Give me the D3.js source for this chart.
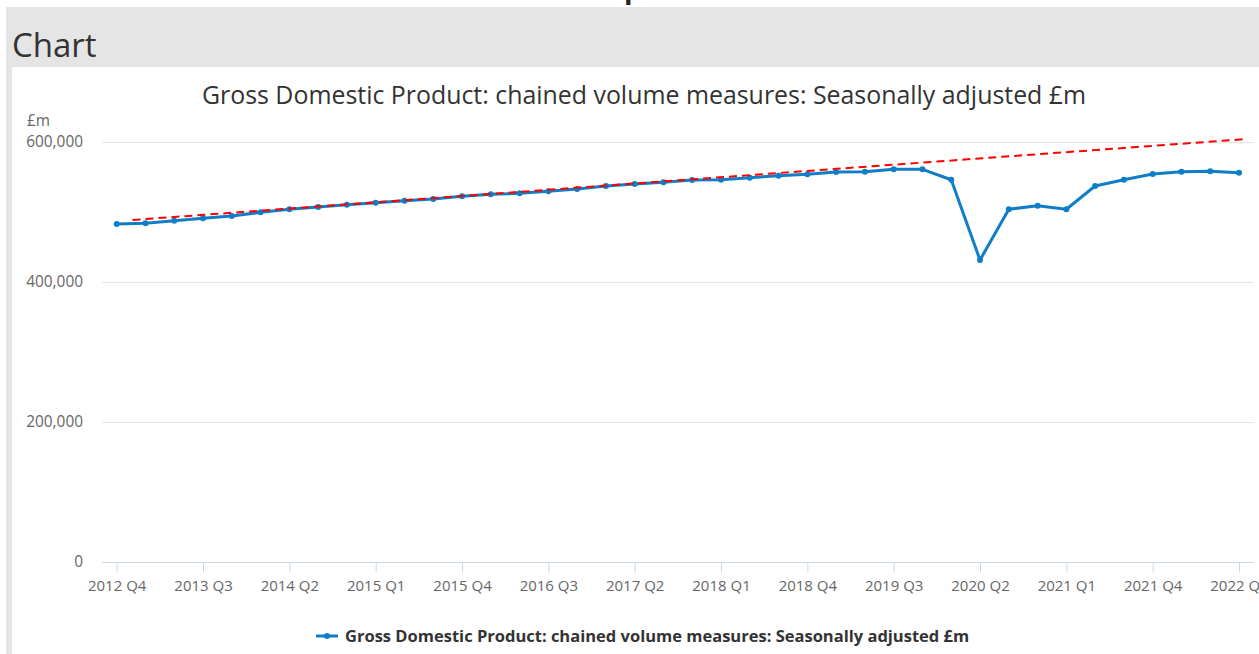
<!DOCTYPE html>
<html><head><meta charset="utf-8">
<script src="https://cdn.jsdelivr.net/npm/d3@7"></script>
<style>
html,body{margin:0;padding:0;background:#fff;overflow:hidden}
svg{display:block;font-family:"Open Sans",sans-serif}
</style></head><body>
<svg id="c" width="1259" height="654"></svg>
<script>
const categories = ["2012 Q4","2013 Q1","2013 Q2","2013 Q3","2013 Q4","2014 Q1","2014 Q2","2014 Q3","2014 Q4",
  "2015 Q1","2015 Q2","2015 Q3","2015 Q4","2016 Q1","2016 Q2","2016 Q3","2016 Q4","2017 Q1","2017 Q2","2017 Q3",
  "2017 Q4","2018 Q1","2018 Q2","2018 Q3","2018 Q4","2019 Q1","2019 Q2","2019 Q3","2019 Q4","2020 Q1","2020 Q2",
  "2020 Q3","2020 Q4","2021 Q1","2021 Q2","2021 Q3","2021 Q4","2022 Q1","2022 Q2","2022 Q3"];
const gdpValues = [482900,483900,487600,491000,494300,499600,503900,507100,510400,513300,516100,518600,522400,
  525300,526700,529600,532900,537100,540000,542400,545700,546100,549000,551900,553900,557100,557600,561000,
  561000,546100,431400,503900,509000,503900,537100,546100,554300,557600,558100,556100];
const trendIndex = [0.55, 39.15];
const trendValues = [488600, 603900];
const xTickLabels = ["2012 Q4","2013 Q3","2014 Q2","2015 Q1","2015 Q4","2016 Q3","2017 Q2","2018 Q1","2018 Q4",
  "2019 Q3","2020 Q2","2021 Q1","2021 Q4","2022 Q3"];
const yTickValues = [0, 200000, 400000, 600000];
const seriesName = "Gross Domestic Product: chained volume measures: Seasonally adjusted £m";
const chartTitle = "Gross Domestic Product: chained volume measures: Seasonally adjusted £m";
const unitLabel = "£m";

const svg = d3.select("#c");
const blue = "#0f7ec6";

// page frame
svg.append("text").attr("x", 574).attr("y", -2).attr("font-size", 28).attr("font-weight", "bold")
  .attr("fill", "#222").text("Graph");
svg.append("rect").attr("x", 6).attr("y", 7).attr("width", 1253).attr("height", 60).attr("fill", "#e5e5e5");
svg.append("rect").attr("x", 6).attr("y", 67).attr("width", 6).attr("height", 587).attr("fill", "#e5e5e5");
svg.append("text").attr("x", 12).attr("y", 57).attr("font-size", 33).attr("fill", "#333").text("Chart");

// title
svg.append("text").attr("x", 644).attr("y", 95).attr("dy", "0.35em").attr("text-anchor", "middle")
  .attr("font-size", 24.9).attr("fill", "#333").text(chartTitle);

const x = d3.scaleLinear().domain([-0.5, categories.length - 0.5]).range([102.3, 1253.4]);
const y = d3.scaleLinear().domain([0, 600000]).range([562, 142]);

// grid
const grid = svg.append("g");
grid.selectAll("line").data(yTickValues.filter(v => v > 0)).join("line")
  .attr("x1", x.range()[0]).attr("x2", x.range()[1])
  .attr("y1", d => y(d) + 0.5).attr("y2", d => y(d) + 0.5)
  .attr("stroke", "#e6e6e6").attr("stroke-width", 1);

// y axis
const yAxis = svg.append("g").attr("transform", "translate(83,0)")
  .call(d3.axisLeft(y).tickValues(yTickValues).tickSize(0).tickPadding(0)
    .tickFormat(d3.format(",")));
yAxis.select(".domain").remove();
yAxis.selectAll("text").attr("font-size", 15.4).attr("fill", "#666").attr("font-family", "Open Sans");
svg.append("text").attr("x", 27).attr("y", 121).attr("dy", "0.35em").attr("font-size", 15.4)
  .attr("fill", "#666").text(unitLabel);

// x axis
const tickIdx = xTickLabels.map(l => categories.indexOf(l));
const xAxis = svg.append("g").attr("transform", "translate(0,562.5)")
  .call(d3.axisBottom(x).tickValues(tickIdx).tickSize(10).tickPadding(8)
    .tickFormat(i => categories[i]));
xAxis.select(".domain").attr("stroke", "#ccd6eb").attr("d", `M${x.range()[0]},0H${x.range()[1]}`);
xAxis.selectAll(".tick line").attr("stroke", "#ccd6eb");
xAxis.selectAll("text").attr("font-size", 15).attr("fill", "#666").attr("font-family", "Open Sans");

// series
const line = d3.line().x((d, i) => x(i)).y(d => y(d));
svg.append("path").datum(gdpValues).attr("d", line).attr("fill", "none")
  .attr("stroke", blue).attr("stroke-width", 3).attr("stroke-linejoin", "round").attr("stroke-linecap", "round");
svg.append("g").selectAll("circle").data(gdpValues).join("circle")
  .attr("cx", (d, i) => x(i)).attr("cy", d => y(d)).attr("r", 3).attr("fill", blue);

// trend
const trend = trendIndex.map((t, i) => [t, trendValues[i]]);
svg.append("path").datum(trend).attr("d", d3.line().x(d => x(d[0])).y(d => y(d[1])))
  .attr("fill", "none").attr("stroke", "#ff0000").attr("stroke-width", 2).attr("stroke-dasharray", "8,5");

// legend
const lg = svg.append("g").attr("transform", "translate(0,636)");
lg.append("line").attr("x1", 316).attr("x2", 338).attr("stroke", blue).attr("stroke-width", 3);
lg.append("circle").attr("cx", 327).attr("r", 3).attr("fill", blue);
lg.append("text").attr("x", 345).attr("dy", "0.35em").attr("font-size", 16.5).attr("font-weight", "bold")
  .attr("fill", "#333").text(seriesName);
</script>
</body></html>
